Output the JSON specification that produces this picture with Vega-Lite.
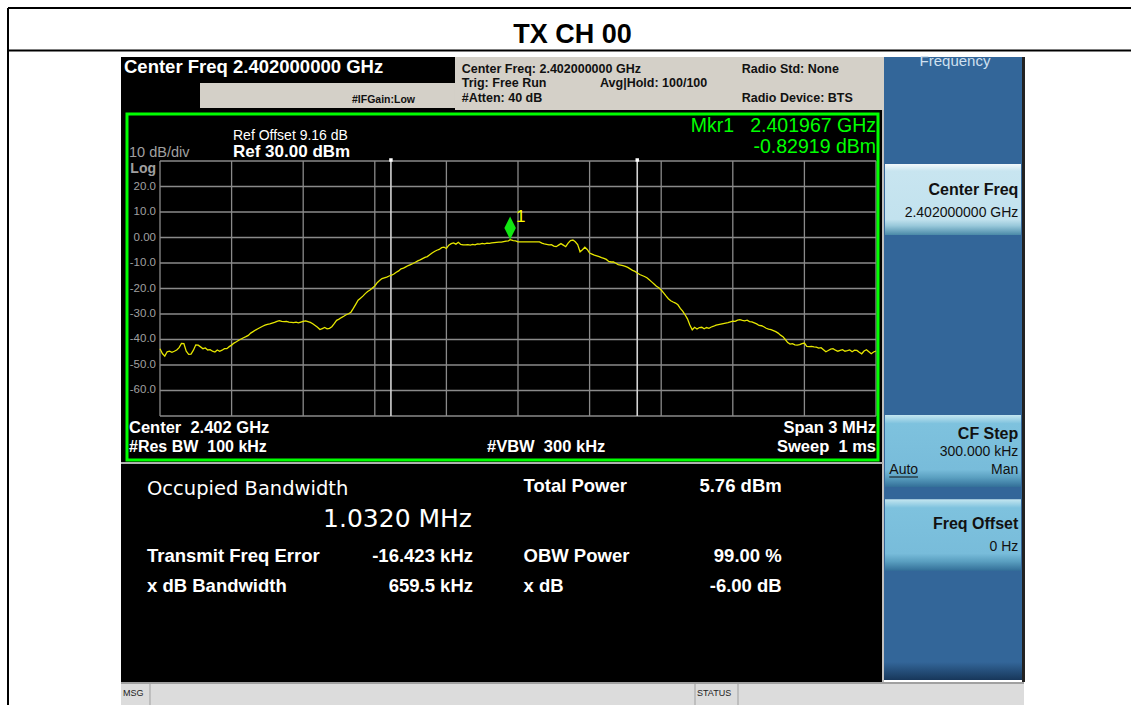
{
"$schema": "https://vega.github.io/schema/vega-lite/v6.json",
"width": 1131, "height": 705, "autosize": "none", "padding": 0,
"background": "white",
"config": {"view": {"stroke": null}, "font": "Liberation Sans", "axis": {"disable": true}},
"data": {"values": [{}]},
"datasets": {
"vgrid": [{"f":2400.5},{"f":2400.8},{"f":2401.1},{"f":2401.4},{"f":2401.7},{"f":2402.0},{"f":2402.3},{"f":2402.6},{"f":2402.9},{"f":2403.2},{"f":2403.5}],
"hgrid": [{"L":30},{"L":20},{"L":10},{"L":0},{"L":-10},{"L":-20},{"L":-30},{"L":-40},{"L":-50},{"L":-60},{"L":-70}],
"obw": [{"f":2401.4676},{"f":2402.4996}],
"ylab": [{"L":20,"t":"20.0"},{"L":10,"t":"10.0"},{"L":0,"t":"0.00"},{"L":-10,"t":"-10.0"},{"L":-20,"t":"-20.0"},{"L":-30,"t":"-30.0"},{"L":-40,"t":"-40.0"},{"L":-50,"t":"-50.0"},{"L":-60,"t":"-60.0"}],
"mkr": [{"f":2401.967,"L":-0.83}],
"trace": [
{"f":2400.50,"L":-43.6},{"f":2400.51,"L":-45.5},{"f":2400.52,"L":-46.5},{"f":2400.53,"L":-44.8},{"f":2400.54,"L":-44.6},{"f":2400.55,"L":-45.0},{"f":2400.56,"L":-44.6},{"f":2400.57,"L":-44.1},{"f":2400.58,"L":-43.2},{"f":2400.59,"L":-41.5},
{"f":2400.60,"L":-41.6},{"f":2400.61,"L":-44.6},{"f":2400.62,"L":-45.8},{"f":2400.63,"L":-45.7},{"f":2400.64,"L":-44.2},{"f":2400.65,"L":-42.1},{"f":2400.66,"L":-42.2},{"f":2400.67,"L":-42.9},{"f":2400.68,"L":-43.6},{"f":2400.69,"L":-43.3},
{"f":2400.70,"L":-44.1},{"f":2400.71,"L":-44.0},{"f":2400.72,"L":-44.6},{"f":2400.73,"L":-44.9},{"f":2400.74,"L":-44.1},{"f":2400.75,"L":-44.6},{"f":2400.76,"L":-44.2},{"f":2400.77,"L":-43.6},{"f":2400.78,"L":-43.6},{"f":2400.79,"L":-42.8},
{"f":2400.80,"L":-42.2},{"f":2400.81,"L":-41.4},{"f":2400.82,"L":-40.9},{"f":2400.83,"L":-40.3},{"f":2400.84,"L":-39.8},{"f":2400.85,"L":-39.3},{"f":2400.86,"L":-38.9},{"f":2400.87,"L":-38.4},{"f":2400.88,"L":-37.5},{"f":2400.89,"L":-36.9},
{"f":2400.90,"L":-36.3},{"f":2400.91,"L":-35.8},{"f":2400.92,"L":-35.3},{"f":2400.93,"L":-34.8},{"f":2400.94,"L":-34.4},{"f":2400.95,"L":-34.1},{"f":2400.96,"L":-33.9},{"f":2400.97,"L":-33.6},{"f":2400.98,"L":-33.3},{"f":2400.99,"L":-32.9},
{"f":2401.00,"L":-32.6},{"f":2401.01,"L":-32.9},{"f":2401.02,"L":-33.0},{"f":2401.03,"L":-32.9},{"f":2401.04,"L":-33.2},{"f":2401.05,"L":-33.3},{"f":2401.06,"L":-33.4},{"f":2401.07,"L":-33.2},{"f":2401.08,"L":-33.5},{"f":2401.09,"L":-33.2},
{"f":2401.10,"L":-32.9},{"f":2401.11,"L":-32.7},{"f":2401.12,"L":-33.0},{"f":2401.13,"L":-33.3},{"f":2401.14,"L":-33.8},{"f":2401.15,"L":-34.5},{"f":2401.16,"L":-35.2},{"f":2401.17,"L":-36.1},{"f":2401.18,"L":-35.7},{"f":2401.19,"L":-35.3},
{"f":2401.20,"L":-35.8},{"f":2401.21,"L":-35.6},{"f":2401.22,"L":-35.0},{"f":2401.23,"L":-33.8},{"f":2401.24,"L":-32.5},{"f":2401.25,"L":-32.0},{"f":2401.26,"L":-31.4},{"f":2401.27,"L":-30.9},{"f":2401.28,"L":-30.3},{"f":2401.29,"L":-29.9},
{"f":2401.30,"L":-29.3},{"f":2401.31,"L":-27.8},{"f":2401.32,"L":-26.2},{"f":2401.33,"L":-24.6},{"f":2401.34,"L":-23.8},{"f":2401.35,"L":-23.0},{"f":2401.36,"L":-22.0},{"f":2401.37,"L":-21.2},{"f":2401.38,"L":-20.6},{"f":2401.39,"L":-19.8},
{"f":2401.40,"L":-19.0},{"f":2401.41,"L":-17.7},{"f":2401.42,"L":-16.9},{"f":2401.43,"L":-16.1},{"f":2401.44,"L":-15.8},{"f":2401.45,"L":-15.5},{"f":2401.46,"L":-15.1},{"f":2401.47,"L":-14.8},{"f":2401.48,"L":-14.3},{"f":2401.49,"L":-13.6},
{"f":2401.50,"L":-13.1},{"f":2401.51,"L":-12.3},{"f":2401.52,"L":-12.0},{"f":2401.53,"L":-11.5},{"f":2401.54,"L":-11.0},{"f":2401.55,"L":-10.6},{"f":2401.56,"L":-10.2},{"f":2401.57,"L":-9.7},{"f":2401.58,"L":-9.2},{"f":2401.59,"L":-8.8},
{"f":2401.60,"L":-8.3},{"f":2401.61,"L":-7.8},{"f":2401.62,"L":-7.5},{"f":2401.63,"L":-6.8},{"f":2401.64,"L":-6.1},{"f":2401.65,"L":-5.5},{"f":2401.66,"L":-5.0},{"f":2401.67,"L":-4.7},{"f":2401.68,"L":-4.0},{"f":2401.69,"L":-3.8},
{"f":2401.70,"L":-4.3},{"f":2401.71,"L":-3.0},{"f":2401.72,"L":-2.4},{"f":2401.73,"L":-2.1},{"f":2401.74,"L":-2.6},{"f":2401.75,"L":-1.9},{"f":2401.76,"L":-2.7},{"f":2401.77,"L":-2.9},{"f":2401.78,"L":-2.9},{"f":2401.79,"L":-2.8},
{"f":2401.80,"L":-3.0},{"f":2401.81,"L":-2.7},{"f":2401.82,"L":-2.9},{"f":2401.83,"L":-2.5},{"f":2401.84,"L":-2.6},{"f":2401.85,"L":-2.3},{"f":2401.86,"L":-2.5},{"f":2401.87,"L":-2.2},{"f":2401.88,"L":-2.3},{"f":2401.89,"L":-2.1},
{"f":2401.90,"L":-2.0},{"f":2401.91,"L":-1.9},{"f":2401.92,"L":-1.8},{"f":2401.93,"L":-1.8},{"f":2401.94,"L":-1.6},{"f":2401.95,"L":-1.4},{"f":2401.96,"L":-1.3},{"f":2401.967,"L":-0.83},{"f":2401.97,"L":-0.9},{"f":2401.98,"L":-1.2},{"f":2401.99,"L":-1.3},
{"f":2402.00,"L":-1.7},{"f":2402.01,"L":-1.7},{"f":2402.02,"L":-1.7},{"f":2402.03,"L":-1.7},{"f":2402.04,"L":-1.7},{"f":2402.05,"L":-1.7},{"f":2402.06,"L":-1.7},{"f":2402.07,"L":-1.7},{"f":2402.08,"L":-1.7},{"f":2402.09,"L":-1.7},
{"f":2402.10,"L":-2.2},{"f":2402.11,"L":-2.5},{"f":2402.12,"L":-2.7},{"f":2402.13,"L":-2.9},{"f":2402.14,"L":-2.8},{"f":2402.15,"L":-3.4},{"f":2402.16,"L":-3.6},{"f":2402.17,"L":-3.0},{"f":2402.18,"L":-2.4},{"f":2402.19,"L":-3.0},
{"f":2402.20,"L":-3.6},{"f":2402.21,"L":-2.2},{"f":2402.22,"L":-1.2},{"f":2402.23,"L":-1.0},{"f":2402.24,"L":-1.7},{"f":2402.25,"L":-2.8},{"f":2402.26,"L":-5.6},{"f":2402.27,"L":-4.8},{"f":2402.28,"L":-3.8},{"f":2402.29,"L":-4.7},
{"f":2402.30,"L":-6.1},{"f":2402.31,"L":-6.5},{"f":2402.32,"L":-6.9},{"f":2402.33,"L":-7.2},{"f":2402.34,"L":-7.5},{"f":2402.35,"L":-7.9},{"f":2402.36,"L":-8.2},{"f":2402.37,"L":-8.6},{"f":2402.38,"L":-9.4},{"f":2402.39,"L":-9.6},
{"f":2402.40,"L":-9.6},{"f":2402.41,"L":-10.1},{"f":2402.42,"L":-10.6},{"f":2402.43,"L":-10.8},{"f":2402.44,"L":-11.0},{"f":2402.45,"L":-11.3},{"f":2402.46,"L":-11.7},{"f":2402.47,"L":-12.3},{"f":2402.48,"L":-12.9},{"f":2402.49,"L":-13.3},
{"f":2402.50,"L":-13.9},{"f":2402.51,"L":-14.5},{"f":2402.52,"L":-14.9},{"f":2402.53,"L":-15.3},{"f":2402.54,"L":-15.8},{"f":2402.55,"L":-16.6},{"f":2402.56,"L":-17.4},{"f":2402.57,"L":-18.2},{"f":2402.58,"L":-19.1},{"f":2402.59,"L":-19.7},
{"f":2402.60,"L":-20.6},{"f":2402.61,"L":-21.7},{"f":2402.62,"L":-22.9},{"f":2402.63,"L":-24.0},{"f":2402.64,"L":-24.8},{"f":2402.65,"L":-25.3},{"f":2402.66,"L":-25.7},{"f":2402.67,"L":-26.4},{"f":2402.68,"L":-27.8},{"f":2402.69,"L":-28.9},
{"f":2402.70,"L":-30.3},{"f":2402.71,"L":-31.9},{"f":2402.72,"L":-34.3},{"f":2402.73,"L":-36.2},{"f":2402.74,"L":-35.2},{"f":2402.75,"L":-35.9},{"f":2402.76,"L":-35.3},{"f":2402.77,"L":-35.2},{"f":2402.78,"L":-35.8},{"f":2402.79,"L":-35.3},
{"f":2402.80,"L":-35.6},{"f":2402.81,"L":-35.1},{"f":2402.82,"L":-34.8},{"f":2402.83,"L":-34.4},{"f":2402.84,"L":-34.2},{"f":2402.85,"L":-34.0},{"f":2402.86,"L":-33.8},{"f":2402.87,"L":-33.6},{"f":2402.88,"L":-33.4},{"f":2402.89,"L":-33.1},
{"f":2402.90,"L":-32.8},{"f":2402.91,"L":-32.9},{"f":2402.92,"L":-32.4},{"f":2402.93,"L":-32.2},{"f":2402.94,"L":-32.5},{"f":2402.95,"L":-32.7},{"f":2402.96,"L":-32.4},{"f":2402.97,"L":-33.0},{"f":2402.98,"L":-33.1},{"f":2402.99,"L":-33.5},
{"f":2403.00,"L":-33.9},{"f":2403.01,"L":-34.5},{"f":2403.02,"L":-34.6},{"f":2403.03,"L":-35.0},{"f":2403.04,"L":-35.6},{"f":2403.05,"L":-35.9},{"f":2403.06,"L":-36.1},{"f":2403.07,"L":-36.5},{"f":2403.08,"L":-36.9},{"f":2403.09,"L":-37.5},
{"f":2403.10,"L":-38.3},{"f":2403.11,"L":-38.9},{"f":2403.12,"L":-40.0},{"f":2403.13,"L":-41.2},{"f":2403.14,"L":-41.8},{"f":2403.15,"L":-41.6},{"f":2403.16,"L":-42.1},{"f":2403.17,"L":-42.2},{"f":2403.18,"L":-42.0},{"f":2403.19,"L":-41.6},
{"f":2403.20,"L":-41.4},{"f":2403.21,"L":-42.7},{"f":2403.22,"L":-42.8},{"f":2403.23,"L":-42.7},{"f":2403.24,"L":-42.9},{"f":2403.25,"L":-43.0},{"f":2403.26,"L":-43.4},{"f":2403.27,"L":-43.2},{"f":2403.28,"L":-44.0},{"f":2403.29,"L":-44.8},
{"f":2403.30,"L":-44.3},{"f":2403.31,"L":-43.8},{"f":2403.32,"L":-43.6},{"f":2403.33,"L":-44.2},{"f":2403.34,"L":-44.6},{"f":2403.35,"L":-44.3},{"f":2403.36,"L":-44.0},{"f":2403.37,"L":-44.6},{"f":2403.38,"L":-44.4},{"f":2403.39,"L":-44.1},
{"f":2403.40,"L":-44.8},{"f":2403.41,"L":-44.2},{"f":2403.42,"L":-44.3},{"f":2403.43,"L":-45.0},{"f":2403.44,"L":-45.6},{"f":2403.45,"L":-44.5},{"f":2403.46,"L":-44.0},{"f":2403.47,"L":-44.8},{"f":2403.48,"L":-45.6},{"f":2403.49,"L":-44.9},
{"f":2403.50,"L":-44.5}
]
},
"layer": [
{"mark": {"type": "rule", "color": "#000", "strokeWidth": 2}, "encoding": {"x": {"datum": 2399.86313}, "x2": {"datum": 2404.56843}, "y": {"datum": 90.0}}},
{"mark": {"type": "rule", "color": "#000", "strokeWidth": 2}, "encoding": {"x": {"datum": 2399.86313}, "x2": {"datum": 2404.56843}, "y": {"datum": 73.3334}}},
{"mark": {"type": "rule", "color": "#000", "strokeWidth": 2}, "encoding": {"x": {"datum": 2399.86313}, "y": {"datum": 90.0}, "y2": {"datum": -183.3334}}},
{"mark": {"type": "text", "text": "TX CH 00", "fontSize": 27, "fontWeight": "bold", "color": "#000", "align": "center", "baseline": "alphabetic"}, "encoding": {"x": {"datum": 2402.22835}, "y": {"datum": 76.2745}}},

{"mark": {"type": "rect", "color": "#000000"}, "encoding": {"x": {"datum": 2400.33659}, "x2": {"datum": 2403.53352}, "y": {"datum": 70.7844}, "y2": {"datum": -174.3137}}},
{"mark": {"type": "rect", "color": "#d4d0c8"}, "encoding": {"x": {"datum": 2400.6676}, "x2": {"datum": 2401.73603}, "y": {"datum": 60.5883}, "y2": {"datum": 50.7843}}},
{"mark": {"type": "rect", "color": "#d4d0c8"}, "encoding": {"x": {"datum": 2401.73603}, "x2": {"datum": 2403.53352}, "y": {"datum": 70.7844}, "y2": {"datum": 50.0}}},
{"mark": {"type": "rect", "color": "#336699"}, "encoding": {"x": {"datum": 2403.53352}, "x2": {"datum": 2404.11173}, "y": {"datum": 70.7844}, "y2": {"datum": -173.5294}}},
{"mark": {"type": "rect", "fill": {"gradient": "linear", "x1": 0, "y1": 0, "x2": 0, "y2": 1, "stops": [{"offset": 0, "color": "#336699"}, {"offset": 1, "color": "#17375a"}]}}, "encoding": {"x": {"datum": 2403.53352}, "x2": {"datum": 2404.11173}, "y": {"datum": -166.4706}, "y2": {"datum": -173.5294}}},
{"mark": {"type": "rect", "color": "#222222"}, "encoding": {"x": {"datum": 2404.11173}, "x2": {"datum": 2404.1243}, "y": {"datum": 70.7844}, "y2": {"datum": -174.3137}}},
{"mark": {"type": "rule", "color": "#c0c0c0", "strokeWidth": 2}, "encoding": {"x": {"datum": 2403.52933}, "y": {"datum": 50.0}, "y2": {"datum": -174.3137}}},
{"mark": {"type": "rule", "color": "#b0b0b0", "strokeWidth": 2}, "encoding": {"x": {"datum": 2400.33659}, "x2": {"datum": 2403.52933}, "y": {"datum": -88.4314}}},

{"mark": {"type": "rect", "color": "#dcdcdc"}, "encoding": {"x": {"datum": 2400.33659}, "x2": {"datum": 2404.12011}, "y": {"datum": -174.3137}, "y2": {"datum": -183.3334}}},
{"mark": {"type": "rule", "color": "#8c8c8c", "strokeWidth": 1.5}, "encoding": {"x": {"datum": 2400.33659}, "x2": {"datum": 2404.12011}, "y": {"datum": -174.7059}}},
{"mark": {"type": "rule", "color": "#a0a0a0", "strokeWidth": 1}, "encoding": {"x": {"datum": 2400.4581}, "y": {"datum": -174.7059}, "y2": {"datum": -183.3334}}},
{"mark": {"type": "rule", "color": "#a0a0a0", "strokeWidth": 1}, "encoding": {"x": {"datum": 2402.74162}, "y": {"datum": -174.7059}, "y2": {"datum": -183.3334}}},
{"mark": {"type": "rule", "color": "#a0a0a0", "strokeWidth": 1}, "encoding": {"x": {"datum": 2402.92179}, "y": {"datum": -174.7059}, "y2": {"datum": -183.3334}}},
{"mark": {"type": "text", "text": "MSG", "fontSize": 9, "color": "#222", "align": "left", "baseline": "alphabetic"}, "encoding": {"x": {"datum": 2400.34497}, "y": {"datum": -179.8039}}},
{"mark": {"type": "text", "text": "STATUS", "fontSize": 9, "color": "#222", "align": "left", "baseline": "alphabetic"}, "encoding": {"x": {"datum": 2402.75}, "y": {"datum": -179.8039}}},

{"data": {"name": "vgrid"}, "mark": {"type": "rule", "color": "#8a8a8a", "strokeWidth": 1.3}, "encoding": {"x": {"field": "f", "type": "quantitative"}, "y": {"datum": 30}, "y2": {"datum": -70}}},
{"data": {"name": "hgrid"}, "mark": {"type": "rule", "color": "#8a8a8a", "strokeWidth": 1.3}, "encoding": {"y": {"field": "L", "type": "quantitative"}, "x": {"datum": 2400.5}, "x2": {"datum": 2403.5}}},
{"data": {"name": "obw"}, "mark": {"type": "rule", "color": "#d4d4d4", "strokeWidth": 1.6}, "encoding": {"x": {"field": "f", "type": "quantitative"}, "y": {"datum": 30}, "y2": {"datum": -70}}},
{"data": {"name": "obw"}, "mark": {"type": "point", "shape": "square", "size": 12, "filled": true, "color": "#ffffff", "opacity": 1}, "encoding": {"x": {"field": "f", "type": "quantitative"}, "y": {"datum": 30.4}}},
{"data": {"name": "trace"}, "mark": {"type": "line", "color": "#e6e600", "strokeWidth": 1.3}, "encoding": {"x": {"field": "f", "type": "quantitative", "scale": {"domain": [2399.82961, 2404.56843], "nice": false, "zero": false}}, "y": {"field": "L", "type": "quantitative", "scale": {"domain": [-183.3334, 93.1373], "nice": false, "zero": false}}}},
{"data": {"name": "mkr"}, "mark": {"type": "point", "shape": "M0,0L0.5,-1L0,-2L-0.5,-1Z", "size": 529, "filled": true, "color": "#12e612", "opacity": 1}, "encoding": {"x": {"field": "f", "type": "quantitative"}, "y": {"field": "L", "type": "quantitative"}}},
{"data": {"name": "mkr"}, "mark": {"type": "text", "text": "1", "dx": 6, "dy": -18, "align": "left", "baseline": "alphabetic", "fontSize": 17, "color": "#ffff00"}, "encoding": {"x": {"field": "f", "type": "quantitative"}, "y": {"field": "L", "type": "quantitative"}}},
{"mark": {"type": "rect", "filled": false, "color": "#00ff00", "strokeWidth": 3}, "encoding": {"x": {"datum": 2400.36173}, "x2": {"datum": 2403.50838}, "y": {"datum": 48.4314}, "y2": {"datum": -87.2549}}},

{"data": {"name": "ylab"}, "mark": {"type": "text", "dx": -4, "align": "right", "baseline": "middle", "fontSize": 11.5, "color": "#a0a0a0"}, "encoding": {"x": {"datum": 2400.5}, "y": {"field": "L", "type": "quantitative"}, "text": {"field": "t", "type": "nominal"}}},
{"mark": {"type": "text", "text": "Log", "dx": -4, "dy": 1, "align": "right", "baseline": "top", "fontSize": 14, "fontWeight": "bold", "color": "#a0a0a0"}, "encoding": {"x": {"datum": 2400.5}, "y": {"datum": 30}}},
{"mark": {"type": "text", "text": "10 dB/div", "align": "left", "baseline": "alphabetic", "fontSize": 14.5, "color": "#a0a0a0"}, "encoding": {"x": {"datum": 2400.37011}, "y": {"datum": 31.5687}}},
{"mark": {"type": "text", "text": "Ref Offset 9.16 dB", "align": "left", "baseline": "alphabetic", "fontSize": 14, "color": "#ffffff"}, "encoding": {"x": {"datum": 2400.80587}, "y": {"datum": 38.2353}}},
{"mark": {"type": "text", "text": "Ref 30.00 dBm", "align": "left", "baseline": "alphabetic", "fontSize": 17, "fontWeight": "bold", "color": "#ffffff"}, "encoding": {"x": {"datum": 2400.80587}, "y": {"datum": 31.5687}}},
{"mark": {"type": "text", "text": "Mkr1\u00a0\u00a0\u00a02.401967 GHz", "align": "right", "baseline": "alphabetic", "fontSize": 19.5, "color": "#00ff00"}, "encoding": {"x": {"datum": 2403.5}, "y": {"datum": 41.3726}}},
{"mark": {"type": "text", "text": "-0.82919 dBm", "align": "right", "baseline": "alphabetic", "fontSize": 19.5, "color": "#00ff00"}, "encoding": {"x": {"datum": 2403.5}, "y": {"datum": 33.0196}}},

{"mark": {"type": "text", "text": "Center\u00a0\u00a02.402 GHz", "align": "left", "baseline": "alphabetic", "fontSize": 16.5, "fontWeight": "bold", "color": "#ffffff"}, "encoding": {"x": {"datum": 2400.37011}, "y": {"datum": -76.549}}},
{"mark": {"type": "text", "text": "#Res BW\u00a0\u00a0100 kHz", "align": "left", "baseline": "alphabetic", "fontSize": 16, "fontWeight": "bold", "color": "#ffffff"}, "encoding": {"x": {"datum": 2400.37011}, "y": {"datum": -84.0}}},
{"mark": {"type": "text", "text": "#VBW\u00a0\u00a0300 kHz", "align": "left", "baseline": "alphabetic", "fontSize": 16.5, "fontWeight": "bold", "color": "#ffffff"}, "encoding": {"x": {"datum": 2401.87011}, "y": {"datum": -84.0}}},
{"mark": {"type": "text", "text": "Span 3 MHz", "align": "right", "baseline": "alphabetic", "fontSize": 16.5, "fontWeight": "bold", "color": "#ffffff"}, "encoding": {"x": {"datum": 2403.5}, "y": {"datum": -76.549}}},
{"mark": {"type": "text", "text": "Sweep\u00a0\u00a01 ms", "align": "right", "baseline": "alphabetic", "fontSize": 16.5, "fontWeight": "bold", "color": "#ffffff"}, "encoding": {"x": {"datum": 2403.5}, "y": {"datum": -84.0}}},

{"mark": {"type": "text", "text": "Center Freq 2.402000000 GHz", "align": "left", "baseline": "alphabetic", "fontSize": 18.5, "fontWeight": "bold", "color": "#ffffff"}, "encoding": {"x": {"datum": 2400.34916}, "y": {"datum": 64.6275}}},
{"mark": {"type": "text", "text": "#IFGain:Low", "align": "left", "baseline": "alphabetic", "fontSize": 10.5, "fontWeight": "bold", "color": "#111111"}, "encoding": {"x": {"datum": 2401.30446}, "y": {"datum": 52.6275}}},
{"mark": {"type": "text", "text": "Center Freq: 2.402000000 GHz", "align": "left", "baseline": "alphabetic", "fontSize": 12.5, "fontWeight": "bold", "color": "#111111"}, "encoding": {"x": {"datum": 2401.7641}, "y": {"datum": 64.6275}}},
{"mark": {"type": "text", "text": "Trig: Free Run", "align": "left", "baseline": "alphabetic", "fontSize": 12.5, "fontWeight": "bold", "color": "#111111"}, "encoding": {"x": {"datum": 2401.7641}, "y": {"datum": 59.1373}}},
{"mark": {"type": "text", "text": "#Atten: 40 dB", "align": "left", "baseline": "alphabetic", "fontSize": 12.5, "fontWeight": "bold", "color": "#111111"}, "encoding": {"x": {"datum": 2401.7641}, "y": {"datum": 53.2549}}},
{"mark": {"type": "text", "text": "Avg|Hold: 100/100", "align": "left", "baseline": "alphabetic", "fontSize": 12.5, "fontWeight": "bold", "color": "#111111"}, "encoding": {"x": {"datum": 2402.34357}, "y": {"datum": 59.1373}}},
{"mark": {"type": "text", "text": "Radio Std: None", "align": "left", "baseline": "alphabetic", "fontSize": 12.5, "fontWeight": "bold", "color": "#111111"}, "encoding": {"x": {"datum": 2402.93729}, "y": {"datum": 64.6275}}},
{"mark": {"type": "text", "text": "Radio Device: BTS", "align": "left", "baseline": "alphabetic", "fontSize": 12.5, "fontWeight": "bold", "color": "#111111"}, "encoding": {"x": {"datum": 2402.93729}, "y": {"datum": 53.2549}}},

{"mark": {"type": "text", "text": "Occupied Bandwidth", "align": "left", "baseline": "alphabetic", "font": "DejaVu Sans", "fontSize": 19.5, "color": "#ffffff"}, "encoding": {"x": {"datum": 2400.44553}, "y": {"datum": -100.9804}}},
{"mark": {"type": "text", "text": "1.0320 MHz", "align": "right", "baseline": "alphabetic", "font": "DejaVu Sans", "fontSize": 25, "color": "#ffffff"}, "encoding": {"x": {"datum": 2401.80726}, "y": {"datum": -113.4118}}},
{"mark": {"type": "text", "text": "Transmit Freq Error", "align": "left", "baseline": "alphabetic", "fontSize": 18.5, "fontWeight": "bold", "color": "#ffffff"}, "encoding": {"x": {"datum": 2400.44553}, "y": {"datum": -127.1373}}},
{"mark": {"type": "text", "text": "-16.423 kHz", "align": "right", "baseline": "alphabetic", "fontSize": 18.5, "fontWeight": "bold", "color": "#ffffff"}, "encoding": {"x": {"datum": 2401.81145}, "y": {"datum": -127.1373}}},
{"mark": {"type": "text", "text": "x dB Bandwidth", "align": "left", "baseline": "alphabetic", "fontSize": 18.5, "fontWeight": "bold", "color": "#ffffff"}, "encoding": {"x": {"datum": 2400.44553}, "y": {"datum": -138.902}}},
{"mark": {"type": "text", "text": "659.5 kHz", "align": "right", "baseline": "alphabetic", "fontSize": 18.5, "fontWeight": "bold", "color": "#ffffff"}, "encoding": {"x": {"datum": 2401.81145}, "y": {"datum": -138.902}}},
{"mark": {"type": "text", "text": "Total Power", "align": "left", "baseline": "alphabetic", "fontSize": 18.5, "fontWeight": "bold", "color": "#ffffff"}, "encoding": {"x": {"datum": 2402.02304}, "y": {"datum": -99.6863}}},
{"mark": {"type": "text", "text": "5.76 dBm", "align": "right", "baseline": "alphabetic", "fontSize": 18.5, "fontWeight": "bold", "color": "#ffffff"}, "encoding": {"x": {"datum": 2403.10489}, "y": {"datum": -99.6863}}},
{"mark": {"type": "text", "text": "OBW Power", "align": "left", "baseline": "alphabetic", "fontSize": 18.5, "fontWeight": "bold", "color": "#ffffff"}, "encoding": {"x": {"datum": 2402.02304}, "y": {"datum": -127.1373}}},
{"mark": {"type": "text", "text": "99.00 %", "align": "right", "baseline": "alphabetic", "fontSize": 18.5, "fontWeight": "bold", "color": "#ffffff"}, "encoding": {"x": {"datum": 2403.10489}, "y": {"datum": -127.1373}}},
{"mark": {"type": "text", "text": "x dB", "align": "left", "baseline": "alphabetic", "fontSize": 18.5, "fontWeight": "bold", "color": "#ffffff"}, "encoding": {"x": {"datum": 2402.02304}, "y": {"datum": -138.902}}},
{"mark": {"type": "text", "text": "-6.00 dB", "align": "right", "baseline": "alphabetic", "fontSize": 18.5, "fontWeight": "bold", "color": "#ffffff"}, "encoding": {"x": {"datum": 2403.10489}, "y": {"datum": -138.902}}},

{"mark": {"type": "text", "text": "Frequency", "align": "center", "baseline": "alphabetic", "fontSize": 15, "color": "#cfe0f0"}, "encoding": {"x": {"datum": 2403.831}, "y": {"datum": 67.0589}}},
{"mark": {"type": "rect", "fill": {"gradient": "linear", "x1": 0, "y1": 0, "x2": 0, "y2": 1, "stops": [{"offset": 0, "color": "#f2f9fb"}, {"offset": 0.1, "color": "#c8e5f0"}, {"offset": 0.78, "color": "#c2e2ee"}, {"offset": 0.87, "color": "#98c8da"}, {"offset": 1, "color": "#4a8aa8"}]}}, "encoding": {"x": {"datum": 2403.53771}, "x2": {"datum": 2404.10754}, "y": {"datum": 28.8236}, "y2": {"datum": 0.9804}}},
{"mark": {"type": "text", "text": "Center Freq", "align": "right", "baseline": "alphabetic", "fontSize": 16, "fontWeight": "bold", "color": "#111111"}, "encoding": {"x": {"datum": 2404.09623}, "y": {"datum": 16.6667}}},
{"mark": {"type": "text", "text": "2.402000000 GHz", "align": "right", "baseline": "alphabetic", "fontSize": 14, "color": "#111111"}, "encoding": {"x": {"datum": 2404.09623}, "y": {"datum": 8.1569}}},
{"mark": {"type": "rect", "fill": {"gradient": "linear", "x1": 0, "y1": 0, "x2": 0, "y2": 1, "stops": [{"offset": 0, "color": "#c4e6f0"}, {"offset": 0.12, "color": "#7ec2de"}, {"offset": 0.76, "color": "#78bcda"}, {"offset": 0.87, "color": "#5a9fc0"}, {"offset": 1, "color": "#336f98"}]}}, "encoding": {"x": {"datum": 2403.53771}, "x2": {"datum": 2404.10754}, "y": {"datum": -69.6079}, "y2": {"datum": -97.8431}}},
{"mark": {"type": "text", "text": "CF Step", "align": "right", "baseline": "alphabetic", "fontSize": 16, "fontWeight": "bold", "color": "#111111"}, "encoding": {"x": {"datum": 2404.09623}, "y": {"datum": -79.1375}}},
{"mark": {"type": "text", "text": "300.000 kHz", "align": "right", "baseline": "alphabetic", "fontSize": 14, "color": "#111111"}, "encoding": {"x": {"datum": 2404.09623}, "y": {"datum": -85.6863}}},
{"mark": {"type": "text", "text": "Auto", "align": "left", "baseline": "alphabetic", "fontSize": 14, "color": "#111111"}, "encoding": {"x": {"datum": 2403.55572}, "y": {"datum": -92.7451}}},
{"mark": {"type": "rule", "color": "#111111", "strokeWidth": 1}, "encoding": {"x": {"datum": 2403.55572}, "x2": {"datum": 2403.67597}, "y": {"datum": -93.9216}}},
{"mark": {"type": "text", "text": "Man", "align": "right", "baseline": "alphabetic", "fontSize": 14, "color": "#111111"}, "encoding": {"x": {"datum": 2404.09623}, "y": {"datum": -92.7451}}},
{"mark": {"type": "rect", "fill": {"gradient": "linear", "x1": 0, "y1": 0, "x2": 0, "y2": 1, "stops": [{"offset": 0, "color": "#c4e6f0"}, {"offset": 0.12, "color": "#7ec2de"}, {"offset": 0.76, "color": "#78bcda"}, {"offset": 0.87, "color": "#5a9fc0"}, {"offset": 1, "color": "#336f98"}]}}, "encoding": {"x": {"datum": 2403.53771}, "x2": {"datum": 2404.10754}, "y": {"datum": -102.6667}, "y2": {"datum": -130.6667}}},
{"mark": {"type": "text", "text": "Freq Offset", "align": "right", "baseline": "alphabetic", "fontSize": 16, "fontWeight": "bold", "color": "#111111"}, "encoding": {"x": {"datum": 2404.09623}, "y": {"datum": -114.4314}}},
{"mark": {"type": "text", "text": "0 Hz", "align": "right", "baseline": "alphabetic", "fontSize": 14, "color": "#111111"}, "encoding": {"x": {"datum": 2404.09623}, "y": {"datum": -122.8235}}}
]
}
